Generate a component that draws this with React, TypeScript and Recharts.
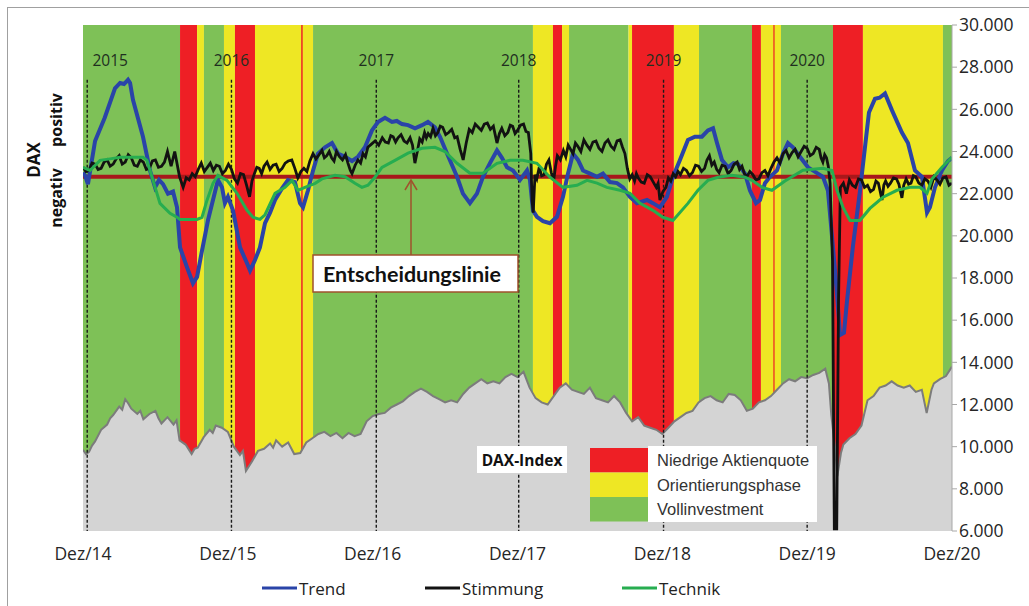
import React from 'react';
import { ComposedChart, Area, Line, XAxis, YAxis, ReferenceArea, ReferenceLine } from 'recharts';

// x values are months after Dez/14
const xTicks = [0, 12, 24, 36, 48, 60, 72];
const xTickLabels = ['Dez/14', 'Dez/15', 'Dez/16', 'Dez/17', 'Dez/18', 'Dez/19', 'Dez/20'];
const yTicks = [6000, 8000, 10000, 12000, 14000, 16000, 18000, 20000, 22000, 24000, 26000, 28000, 30000];
const decisionLevel = 22800;
const yearLabels = ['2015', '2016', '2017', '2018', '2019', '2020'];
const yearLineMonths = [0.35, 12.3, 24.3, 36.1, 48.1, 60.0];
const yearLineTop = 27400;

// phases: [start, end, kind]  R = Niedrige Aktienquote, Y = Orientierungsphase, G = Vollinvestment
const phases: [number, number, string][] = [
  [0, 8.04, 'G'], [8.04, 9.45, 'R'], [9.45, 10.02, 'Y'], [10.02, 11.68, 'G'], [11.68, 12.59, 'Y'],
  [12.59, 14.25, 'R'], [14.25, 19.06, 'Y'], [18.08, 18.2, 'R'], [19.06, 37.28, 'G'], [37.28, 38.94, 'Y'],
  [38.94, 39.69, 'R'], [39.69, 40.27, 'Y'], [40.27, 45.2, 'G'], [45.2, 45.49, 'Y'], [45.49, 48.96, 'R'],
  [48.96, 51.04, 'Y'], [51.04, 55.43, 'G'], [55.43, 56.17, 'R'], [56.17, 57.83, 'Y'], [57.2, 57.3, 'R'],
  [57.83, 62.14, 'G'], [62.14, 64.62, 'R'], [64.62, 71.25, 'Y'], [71.25, 72, 'G'],
];
const phaseColors: Record<string, string> = { R: '#ee1f25', Y: '#eee724', G: '#7ec157' };
const phaseLegend = [
  { kind: 'R', label: 'Niedrige Aktienquote' },
  { kind: 'Y', label: 'Orientierungsphase' },
  { kind: 'G', label: 'Vollinvestment' },
];

const daxIndex: [number, number][] = [
  [0, 9850], [0.25, 9650], [0.5, 9750], [0.75, 10050], [1, 10250], [1.5, 10800], [2, 11050], [2.25, 11350], [2.5, 11500],
  [3, 11900], [3.25, 11750], [3.5, 12250], [3.75, 12050], [4, 11800], [4.5, 11550], [4.75, 11700], [5, 11300],
  [5.5, 11550], [6, 11700], [6.25, 11350], [6.5, 11100], [7, 11400], [7.5, 11050], [7.75, 11250], [8, 10300],
  [8.5, 10100], [9, 9650], [9.25, 9900], [9.5, 9950], [10, 10450], [10.5, 10800], [10.75, 10650], [11, 11000],
  [11.5, 10900], [12, 10700], [12.5, 10000], [13, 9600], [13.25, 9800], [13.5, 8850], [14, 9300], [14.5, 9800],
  [15, 9900], [15.5, 10150], [15.75, 9950], [16, 10300], [16.5, 10000], [17, 10200], [17.5, 9650], [18, 9700],
  [18.5, 10200], [19, 10400], [19.5, 10600], [20, 10700], [20.5, 10500], [21, 10650], [21.5, 10400], [22, 10650],
  [22.5, 10500], [23, 10600], [23.5, 11200], [24, 11450], [24.5, 11550], [25, 11600], [25.5, 11850], [26, 12000],
  [26.5, 12150], [27, 12400], [27.5, 12600], [28, 12750], [28.5, 12600], [29, 12400], [29.5, 12250], [30, 12100],
  [30.5, 12200], [31, 12100], [31.5, 12500], [32, 12800], [32.5, 13000], [33, 13200], [33.5, 13000], [34, 13100],
  [34.5, 13000], [35, 13300], [35.5, 13450], [36, 13300], [36.5, 13550], [37, 12800], [37.5, 12300], [38, 12100],
  [38.5, 12000], [39, 12400], [39.5, 12800], [40, 13000], [40.5, 12700], [41, 12600], [41.5, 12500], [42, 12800],
  [42.5, 12300], [43, 12200], [43.5, 12100], [44, 12400], [44.5, 12100], [45, 11600], [45.5, 11200], [46, 11400],
  [46.5, 11000], [47, 10900], [47.5, 10800], [48, 10600], [48.5, 10900], [49, 11200], [49.5, 11400], [50, 11600],
  [50.5, 11700], [51, 12100], [51.5, 12300], [52, 12400], [52.5, 12200], [53, 12100], [53.5, 12500], [54, 12450],
  [54.5, 12200], [55, 11700], [55.5, 11800], [56, 12100], [56.5, 12200], [57, 12400], [57.5, 12700], [58, 13000],
  [58.5, 13200], [59, 13100], [59.5, 13300], [60, 13250], [60.5, 13400], [61, 13500], [61.5, 13700], [61.8, 13000],
  [62, 11500], [62.3, 10000], [62.5, 8600], [62.8, 9700], [63, 10100], [63.5, 10400], [64, 10600], [64.5, 11000],
  [65, 12200], [65.5, 12400], [66, 12800], [66.5, 12900], [67, 13100], [67.5, 12900], [68, 12800], [68.5, 12900],
  [69, 12600], [69.5, 12700], [69.9, 11600], [70.3, 12700], [70.5, 13000], [71, 13200], [71.5, 13350], [72, 13800],
];

const trend: [number, number][] = [
  [0, 23000], [0.17, 22870], [0.41, 22450], [1, 24500], [1.8, 25600], [2.65, 27000], [3.07, 27250], [3.4, 27200],
  [3.73, 27400], [3.9, 27250], [4.14, 26450], [4.97, 24700], [5.55, 23100], [5.97, 22300], [6.3, 22650], [6.63, 22450],
  [7.04, 22000], [7.46, 22100], [7.79, 21350], [8.04, 19450], [8.62, 18500], [9.11, 17750], [9.45, 18050], [9.86, 19300],
  [10.36, 20750], [10.77, 21700], [11.18, 22650], [11.52, 22300], [11.76, 21550], [12.01, 21850], [12.43, 21200],
  [13.01, 19450], [13.59, 18700], [13.84, 18350], [14.25, 18850], [14.66, 19450], [15.08, 20600], [15.5, 21100],
  [15.91, 21700], [16.49, 22250], [16.98, 22650], [17.56, 22550], [17.98, 21550], [18.23, 21350], [18.64, 22150],
  [19.06, 23100], [19.47, 23900], [20.05, 24200], [20.63, 24400], [21.13, 23900], [21.71, 23750], [22.29, 23550],
  [22.78, 23750], [23.36, 24200], [23.94, 25000], [24.44, 25400], [25.02, 25600], [25.6, 25400], [26, 25450],
  [26.43, 25300], [26.93, 25250], [27.51, 25100], [28.09, 25250], [28.58, 25400], [29.16, 25150], [29.58, 24700],
  [30.16, 23900], [30.99, 22800], [31.48, 22000], [32.06, 21550], [32.64, 22000], [33.14, 22800], [33.72, 23450],
  [34.3, 24050], [34.71, 23700], [35.13, 23250], [35.63, 23100], [36.21, 22650], [36.79, 23100], [37.03, 22650],
  [37.28, 21200], [37.61, 20900], [38.11, 20700], [38.69, 20600], [39.27, 20900], [39.77, 21850], [40.18, 22950],
  [40.6, 23900], [41.01, 23600], [41.43, 23100], [42.01, 22950], [42.59, 22800], [43.08, 22950], [43.66, 22550],
  [44.24, 22500], [44.74, 22300], [45.32, 21850], [45.9, 21550], [46.73, 21700], [47.22, 21550], [47.8, 21350],
  [48.38, 21850], [48.88, 22800], [49.46, 23600], [50.12, 24550], [50.7, 24700], [51.28, 24700], [51.78, 25000],
  [52.2, 25100], [52.53, 24400], [52.94, 23600], [53.44, 23250], [53.9, 23450], [54.27, 23400], [54.85, 22950],
  [55.26, 22150], [55.76, 21550], [56.09, 21700], [56.5, 22500], [56.92, 22800], [57.5, 23100], [58, 23900],
  [58.41, 24400], [58.82, 24200], [59.4, 23750], [60.07, 23250], [60.89, 22950], [61.31, 22800], [61.72, 22150],
  [62.14, 19450], [62.47, 17250], [62.72, 15300], [63.05, 15400], [63.3, 16900], [63.79, 19500], [64.37, 22100],
  [64.87, 24600], [65.12, 25850], [65.62, 26500], [66, 26550], [66.45, 26750], [67.03, 25950], [67.85, 24900],
  [68.35, 24400], [68.93, 23100], [69.51, 22800], [69.93, 21100], [70.17, 21350], [70.59, 22300], [71.17, 23100],
  [71.67, 23550], [72, 23700],
];

const stimmung: [number, number][] = [
  [0, 23250], [0.25, 23050], [0.5, 23100], [0.75, 23450], [1, 23400], [1.25, 23150], [1.5, 23200], [1.75, 23500],
  [2, 23600], [2.25, 23300], [2.5, 23400], [2.75, 23650], [3, 23800], [3.25, 23400], [3.5, 23500], [3.75, 23850],
  [4, 23700], [4.25, 23350], [4.5, 23300], [4.75, 23600], [5, 23500], [5.25, 23150], [5.5, 23200], [5.75, 23550],
  [6, 23600], [6.25, 23250], [6.5, 23300], [6.75, 23500], [7, 24000], [7.3, 23300], [7.6, 24000], [8, 22800],
  [8.3, 22300], [8.55, 22750], [8.8, 22650], [9.05, 22950], [9.3, 22800], [9.55, 23150], [9.8, 23450], [10.05, 23050],
  [10.3, 23250], [10.55, 23450], [10.8, 23100], [11.05, 23350], [11.3, 23300], [11.55, 22950], [11.8, 23100],
  [12.05, 23400], [12.3, 23150], [12.55, 22700], [12.8, 22500], [13.05, 22950], [13.3, 22900], [13.55, 22400],
  [13.8, 21850], [14.0, 22600], [14.2, 22950], [14.4, 23250], [14.6, 23200], [14.8, 22950], [15, 23300],
  [15.25, 23500], [15.5, 23150], [15.75, 23350], [16, 23400], [16.25, 23050], [16.5, 23200], [16.75, 23450],
  [17, 23550], [17.3, 23600], [17.55, 23200], [17.8, 22750], [18.05, 23050], [18.3, 23200], [18.55, 23050],
  [18.8, 23550], [19.06, 23900], [19.3, 23650], [19.5, 23800], [19.8, 24050], [20.0, 23700], [20.2, 23800],
  [20.4, 24000], [20.6, 23700], [20.8, 23550], [21, 24000], [21.25, 23750], [21.5, 23600], [21.75, 23850],
  [21.95, 23450], [22.15, 23100], [22.29, 22950], [22.55, 23350], [22.78, 23600], [23.0, 23450], [23.2, 23900],
  [23.4, 23750], [23.6, 24200], [23.9, 24350], [24.2, 24500], [24.5, 24300], [24.8, 24650], [25.05, 24450],
  [25.3, 24400], [25.5, 24750], [25.7, 24700], [25.9, 24450], [26.1, 24650], [26.35, 24800], [26.6, 24500],
  [26.85, 24400], [27.1, 24650], [27.3, 24300], [27.5, 23450], [27.7, 24000], [27.9, 24600], [28.1, 24450],
  [28.3, 24900], [28.45, 24650], [28.6, 24850], [28.8, 24700], [29, 25100], [29.2, 24750], [29.4, 24900],
  [29.6, 25200], [29.8, 25150], [30.05, 24800], [30.3, 24900], [30.55, 25050], [30.8, 24650], [31, 24700],
  [31.25, 24100], [31.5, 23600], [31.75, 24400], [32, 25050], [32.25, 24900], [32.5, 25300], [32.75, 25150],
  [33, 25000], [33.25, 25300], [33.5, 25350], [33.75, 25050], [34, 25200], [34.15, 24800], [34.3, 24400],
  [34.5, 24850], [34.7, 25100], [34.95, 24750], [35.2, 24900], [35.4, 25250], [35.6, 25200], [35.8, 24850],
  [36, 25000], [36.25, 25250], [36.5, 25300], [36.7, 24950], [36.9, 24900], [37.1, 23900], [37.2, 21700],
  [37.3, 21100], [37.45, 22900], [37.6, 22700], [37.8, 23250], [38.0, 22850], [38.2, 22900], [38.4, 23400],
  [38.6, 23600], [38.8, 23000], [39, 22650], [39.15, 23300], [39.3, 23800], [39.55, 23600], [39.8, 24050],
  [40.0, 23750], [40.2, 24300], [40.4, 24100], [40.6, 23900], [40.8, 24400], [41, 24250], [41.25, 24000],
  [41.5, 24550], [41.75, 24300], [42, 24100], [42.25, 24450], [42.5, 24500], [42.75, 24150], [43, 24000],
  [43.25, 24400], [43.5, 24550], [43.75, 24250], [44, 24100], [44.25, 24500], [44.5, 24550], [44.7, 24200],
  [44.9, 23900], [45.1, 23200], [45.3, 22700], [45.5, 22900], [45.7, 22600], [45.85, 22950], [46, 22750],
  [46.25, 22550], [46.5, 22500], [46.75, 22900], [47, 22800], [47.25, 22550], [47.5, 22300], [47.65, 22500],
  [47.8, 21700], [48.05, 22100], [48.3, 22300], [48.5, 22750], [48.7, 22600], [48.9, 22950], [49.1, 22800],
  [49.3, 23050], [49.5, 22900], [49.75, 23200], [50, 23100], [50.25, 22850], [50.5, 23000], [50.75, 23350],
  [51, 23300], [51.25, 23050], [51.5, 23200], [51.7, 23600], [51.9, 23800], [52.1, 23350], [52.3, 23500],
  [52.5, 23150], [52.7, 23000], [52.95, 23350], [53.2, 23300], [53.45, 22950], [53.7, 23100], [53.95, 23400],
  [54.2, 23500], [54.4, 23150], [54.6, 23300], [54.8, 22950], [55, 22800], [55.25, 23050], [55.5, 22900],
  [55.75, 22650], [56, 22700], [56.25, 23000], [56.5, 23100], [56.75, 22850], [57, 23200], [57.25, 23500],
  [57.5, 23700], [57.75, 23450], [58, 23900], [58.25, 24050], [58.5, 23700], [58.75, 23950], [59, 24100],
  [59.25, 23750], [59.5, 24000], [59.75, 24250], [60, 24150], [60.25, 23800], [60.5, 23900], [60.75, 24200],
  [61, 24100], [61.15, 23700], [61.3, 23500], [61.45, 23850], [61.6, 23700], [61.75, 23300], [61.9, 22500],
  [62.1, 18800], [62.25, 6100], [62.45, 6100], [62.6, 17000], [62.75, 22300], [63.0, 22500], [63.25, 22000],
  [63.5, 22650], [63.75, 22400], [64, 22300], [64.25, 22700], [64.5, 22650], [64.75, 22300], [65, 22400],
  [65.25, 22100], [65.5, 22200], [65.7, 22600], [65.9, 22500], [66.05, 22100], [66.2, 21700], [66.35, 22400],
  [66.5, 22600], [66.7, 22350], [66.9, 22500], [67.15, 22750], [67.4, 22700], [67.6, 22450], [67.85, 21800],
  [68.0, 22400], [68.2, 22700], [68.4, 22450], [68.6, 22500], [68.8, 22850], [69, 22800], [69.25, 22500],
  [69.5, 22400], [69.75, 22700], [70, 22600], [70.25, 22300], [70.5, 22800], [70.75, 22650], [71, 22450],
  [71.25, 22750], [71.5, 22800], [71.75, 22400], [72, 22500],
];

const technik: [number, number][] = [
  [0, 23250], [0.58, 23100], [1.41, 23580], [2.24, 23650], [3.07, 23730], [4.97, 23730], [5.3, 23580], [5.8, 22630],
  [6.38, 21540], [7.21, 21070], [7.79, 20880], [8.04, 20780], [9.45, 20780], [9.86, 20880], [10.27, 21680],
  [10.77, 22490], [11.18, 22870], [11.93, 22630], [12.76, 22020], [13.59, 21210], [14.08, 20880], [14.66, 20780],
  [15.08, 21000], [15.91, 22020], [16.74, 22300], [17.32, 22630], [17.81, 22160], [18.39, 22300], [19.23, 22490],
  [19.8, 22700], [20.88, 22870], [21.71, 22800], [22.53, 22490], [23.11, 22300], [23.61, 22400], [24.19, 22780],
  [24.77, 23250], [25.85, 23580], [26.93, 23920], [28.09, 24150], [29.16, 24200], [29.99, 24000], [30.99, 23440],
  [32.06, 22970], [33.14, 22970], [34.3, 23440], [35.38, 23580], [36.45, 23580], [37.61, 23440], [38.69, 22780],
  [39.77, 22300], [40.93, 22400], [41.76, 22630], [42.59, 22500], [43.41, 22300], [44.49, 22160], [45.32, 22020],
  [46.15, 21540], [47.22, 21210], [48.05, 20880], [48.88, 20730], [50.12, 21540], [50.95, 22160], [51.78, 22630],
  [52.61, 22780], [53.77, 22870], [54.85, 22780], [55.43, 22630], [56.26, 22300], [57.08, 22160], [58.16, 22600],
  [59.65, 23110], [61.31, 23200], [62.06, 23100], [62.47, 22160], [62.97, 21350], [63.55, 20730], [64.37, 20730],
  [65.2, 21300], [66.28, 21830], [67.44, 22160], [68.52, 22300], [69.35, 22300], [69.93, 22020], [70.34, 22700],
  [71.17, 23250], [72, 23730],
];

const seriesInfo = [
  { name: 'Trend', color: '#2a44a8', width: 4, data: trend },
  { name: 'Stimmung', color: '#121212', width: 2.8, data: stimmung },
  { name: 'Technik', color: '#27ad50', width: 3, data: technik },
];

const toRows = (arr: [number, number][]) => arr.map(([m, v]) => ({ m, v }));
const fmtThousands = (v: number) => String(v).replace(/\B(?=(\d{3})+(?!\d))/g, '.');

const legendX = [262, 425, 622];

export default function App() {
  return (
    <div style={{ position: 'relative', width: 1029, height: 606, background: '#fff', overflow: 'hidden' }}>
      <style>{`body{margin:0;overflow:hidden;background:#fff}`}</style>
      <ComposedChart width={1029} height={606} margin={{ top: 25, right: 0, bottom: 45, left: 83 }}>
        <XAxis
          type="number"
          dataKey="m"
          domain={[0, 72]}
          ticks={xTicks}
          tickFormatter={(v: number) => xTickLabels[xTicks.indexOf(v)]}
          axisLine={false}
          tickLine={false}
          tickMargin={11}
          height={30}
          allowDataOverflow
          tick={{ fontFamily: 'Open Sans', fontSize: 17.5, fill: '#262626' }}
        />
        <YAxis
          orientation="right"
          type="number"
          domain={[6000, 30000]}
          ticks={yTicks}
          width={77}
          tickSize={5}
          tickFormatter={fmtThousands}
          axisLine={{ stroke: '#a8a8a8' }}
          tickLine={{ stroke: '#a8a8a8' }}
          allowDataOverflow
          tick={{ fontFamily: 'Open Sans', fontSize: 17.5, fill: '#262626' }}
        />
        {phases.map(([a, b, k], i) => (
          <ReferenceArea key={'p' + i} x1={a} x2={b} fill={phaseColors[k]} fillOpacity={1} stroke="none" />
        ))}
        <Area
          data={toRows(daxIndex)}
          dataKey="v"
          type="linear"
          fill="#d4d4d4"
          fillOpacity={1}
          stroke="#7c7c7c"
          strokeWidth={2}
          isAnimationActive={false}
        />
        {yearLineMonths.map((m, i) => (
          <ReferenceLine
            key={'y' + i}
            segment={[{ x: m, y: yearLineTop }, { x: m, y: 6000 }]}
            stroke="#1a1a1a"
            strokeWidth={1.4}
            strokeDasharray="3 2"
          />
        ))}
        {yearLineMonths.map((m, i) => (
          <ReferenceLine
            key={'yl' + i}
            x={m}
            stroke="none"
            label={{
              value: yearLabels[i],
              position: 'insideTop',
              offset: 30,
              dx: i === 0 ? 23 : 0,
              fill: '#1f2f1f',
              fontSize: 15.5,
              fontFamily: 'Open Sans',
            }}
          />
        ))}
        <ReferenceLine y={decisionLevel} stroke="#a8181b" strokeWidth={4} />
        {seriesInfo.map((s) => (
          <Line
            key={s.name}
            data={toRows(s.data)}
            dataKey="v"
            name={s.name}
            type="linear"
            stroke={s.color}
            strokeWidth={s.width}
            dot={false}
            isAnimationActive={false}
          />
        ))}
      </ComposedChart>
      <svg
        width={1029}
        height={606}
        style={{ position: 'absolute', left: 0, top: 0, pointerEvents: 'none' }}
      >
        <line x1={7.5} y1={7} x2={7.5} y2={606} stroke="#a0a0a0" strokeWidth={1} />
        <line x1={7} y1={7.5} x2={1029} y2={7.5} stroke="#a0a0a0" strokeWidth={1} />
        <g fontFamily="Open Sans" fontWeight="bold" fill="#111">
          <text transform="translate(33,160) rotate(-90)" textAnchor="middle" dominantBaseline="central" fontSize={17}>DAX</text>
          <text transform="translate(56,120) rotate(-90)" textAnchor="middle" dominantBaseline="central" fontSize={16}>positiv</text>
          <text transform="translate(56,198) rotate(-90)" textAnchor="middle" dominantBaseline="central" fontSize={16}>negativ</text>
        </g>
        {/* Entscheidungslinie annotation */}
        <line x1={411} y1={255} x2={411} y2={181} stroke="#a0522d" strokeWidth={1.5} />
        <polyline points="405,190 411,180 417,190" fill="none" stroke="#a0522d" strokeWidth={1.5} />
        <rect x={313} y={255} width={205} height={37} fill="#fff" stroke="#a0522d" strokeWidth={1.5} />
        <text x={412} y={274} textAnchor="middle" dominantBaseline="central" fontFamily="Lato" fontWeight="bold" fontSize={21.5} fill="#111">
          Entscheidungslinie
        </text>
        {/* DAX-Index label */}
        <rect x={477} y={446} width={90} height={27} fill="#fff" />
        <text x={522} y={460} textAnchor="middle" dominantBaseline="central" fontFamily="Open Sans" fontWeight="bold" fontSize={15.5} fill="#111">
          DAX-Index
        </text>
        {/* phase legend */}
        <rect x={648} y={446} width={169} height={76} fill="#fff" />
        {phaseLegend.map((p, i) => (
          <g key={p.kind}>
            <rect x={590} y={448 + i * 24.5} width={58} height={24.5} fill={phaseColors[p.kind]} />
            <text x={657} y={460 + i * 24.5} dominantBaseline="central" fontFamily="Liberation Sans" fontSize={16.5} fill="#333">
              {p.label}
            </text>
          </g>
        ))}
        {/* series legend */}
        {seriesInfo.map((s, i) => (
          <g key={s.name}>
            <line x1={legendX[i]} y1={588} x2={legendX[i] + 35} y2={588} stroke={s.color} strokeWidth={3} />
            <text x={legendX[i] + 37} y={588} dominantBaseline="central" fontFamily="Open Sans" fontSize={17} fill="#222">
              {s.name}
            </text>
          </g>
        ))}
      </svg>
    </div>
  );
}
